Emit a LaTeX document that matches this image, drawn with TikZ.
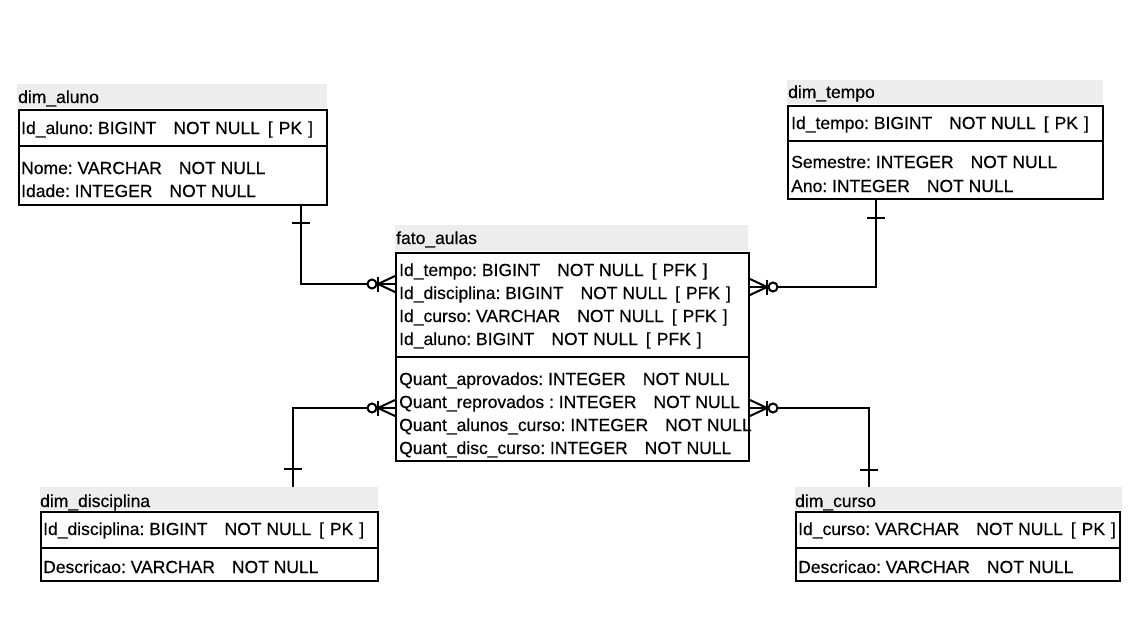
\documentclass[tikz,border=0pt]{standalone}
\usepackage{fontspec}
\setmainfont{Liberation Sans}[RawFeature={embolden=0.4}]
\usetikzlibrary{calc}
\definecolor{hdrgray}{HTML}{EDEDED}
\newcommand\gp[1]{\hspace*{#1pt}}
\newcommand\tg{\gp{17}}
\newcommand\kg{\gp{8}}
\newcommand\pk[1]{[\gp{6}#1\gp{6}]}
\newcommand\fs{\fontsize{17.5}{20}\selectfont\frenchspacing}
\newcommand\manyW[1]{%
  \draw[rel] ([yshift=8pt]#1) -- ([xshift=-17pt]#1) -- ([yshift=-8pt]#1);
  \draw[rel] ([xshift=-17pt,yshift=7.5pt]#1) -- ([xshift=-17pt,yshift=-7.5pt]#1);
  \draw[rel,fill=white] ([xshift=-23pt]#1) circle[radius=4.5pt];}
\newcommand\manyE[1]{%
  \draw[rel] ([yshift=8pt]#1) -- ([xshift=17pt]#1) -- ([yshift=-8pt]#1);
  \draw[rel] ([xshift=17pt,yshift=7.5pt]#1) -- ([xshift=17pt,yshift=-7.5pt]#1);
  \draw[rel,fill=white] ([xshift=23pt]#1) circle[radius=4.5pt];}
\newcommand\oneBar[2]{%
  \draw[rel] ([xshift=-9pt,yshift=#2]#1) -- ([xshift=9pt,yshift=#2]#1);}
\begin{document}
\begin{tikzpicture}[x=1pt,y=-1pt,
  border/.style={draw=black,line width=2pt},
  tbox/.style={border,fill=white,inner sep=0pt,anchor=north west},
  hdr/.style={fill=hdrgray,draw=none,inner sep=0pt,anchor=north west},
  txt/.style={inner sep=0pt,anchor=base west,font=\fs},
  rel/.style={draw=black,line width=2pt},
]
\useasboundingbox (0,0) rectangle (1142,632);
\fill[white] (0,0) rectangle (1142,632);

% ---------- dim_aluno ----------
\node[hdr,minimum width=310,minimum height=24] (alunoH) at (17,84) {};
\node[tbox,minimum width=308,minimum height=95] (alunoB) at (18,109) {};
\node[txt] (alunoT) at (18,103) {dim\_aluno};
\coordinate (alunoD) at (18,146);
\draw[border] (alunoD) -- (alunoD -| alunoB.east);
\node[txt] (alunoR1) at (21,134) {Id\_aluno: BIGINT\tg NOT NULL\kg\pk{PK}};
\node[txt] (alunoR2) at (21,174) {Nome: VARCHAR\tg NOT NULL};
\node[txt] (alunoR3) at (21,197) {Idade: INTEGER\tg NOT NULL};

% ---------- dim_tempo ----------
\node[hdr,minimum width=316,minimum height=24] (tempoH) at (787,80) {};
\node[tbox,minimum width=315,minimum height=93] (tempoB) at (787,105) {};
\node[txt] (tempoT) at (788,98) {dim\_tempo};
\coordinate (tempoD) at (787,141);
\draw[border] (tempoD) -- (tempoD -| tempoB.east);
\node[txt] (tempoR1) at (791,129) {Id\_tempo: BIGINT\tg NOT NULL\kg\pk{PK}};
\node[txt] (tempoR2) at (791,168) {Semestre: INTEGER\tg NOT NULL};
\node[txt] (tempoR3) at (791,192) {Ano: INTEGER\tg NOT NULL};

% ---------- fato_aulas ----------
\node[hdr,minimum width=353,minimum height=26] (fatoH) at (395,225) {};
\node[tbox,minimum width=353,minimum height=208] (fatoB) at (395,252) {};
\node[txt] (fatoT) at (396,244) {fato\_aulas};
\coordinate (fatoD) at (395,357);
\draw[border] (fatoD) -- (fatoD -| fatoB.east);
\node[txt] (fatoR1) at (399,276) {Id\_tempo: BIGINT\tg NOT NULL\kg\pk{PFK}};
\node[txt] (fatoR2) at (399,299) {Id\_disciplina: BIGINT\tg NOT NULL\kg\pk{PFK}};
\node[txt] (fatoR3) at (399,322) {Id\_curso: VARCHAR\tg NOT NULL\kg\pk{PFK}};
\node[txt] (fatoR4) at (399,345) {Id\_aluno: BIGINT\tg NOT NULL\kg\pk{PFK}};
\node[txt] (fatoR5) at (399,385) {Quant\_aprovados: INTEGER\tg NOT NULL};
\node[txt] (fatoR6) at (399,408) {Quant\_reprovados : INTEGER\tg NOT NULL};
\node[txt] (fatoR7) at (399,431) {Quant\_alunos\_curso: INTEGER\tg NOT NULL};
\node[txt] (fatoR8) at (399,454) {Quant\_disc\_curso: INTEGER\tg NOT NULL};

% ---------- dim_disciplina ----------
\node[hdr,minimum width=338,minimum height=23] (discH) at (40,487) {};
\node[tbox,minimum width=337,minimum height=69] (discB) at (40,511) {};
\node[txt] (discT) at (40,507) {dim\_disciplina};
\coordinate (discD) at (40,548);
\draw[border] (discD) -- (discD -| discB.east);
\node[txt] (discR1) at (43,535) {Id\_disciplina: BIGINT\tg NOT NULL\kg\pk{PK}};
\node[txt] (discR2) at (43,573) {Descricao: VARCHAR\tg NOT NULL};

% ---------- dim_curso ----------
\node[hdr,minimum width=327,minimum height=23] (cursoH) at (795,487) {};
\node[tbox,minimum width=324,minimum height=69] (cursoB) at (795,511) {};
\node[txt] (cursoT) at (795,507) {dim\_curso};
\coordinate (cursoD) at (795,548);
\draw[border] (cursoD) -- (cursoD -| cursoB.east);
\node[txt] (cursoR1) at (798,535) {Id\_curso: VARCHAR\tg NOT NULL\kg\pk{PK}};
\node[txt] (cursoR2) at (798,573) {Descricao: VARCHAR\tg NOT NULL};

% ---------- connectors ----------
\coordinate (j1) at (301,284);
\coordinate (j2) at (876,287);
\coordinate (j3) at (293,408);
\coordinate (j4) at (869,408);

\coordinate (s1) at (alunoB.south -| j1);
\coordinate (e1) at (fatoB.west |- j1);
\draw[rel] (s1) |- (e1);
\oneBar{s1}{-17pt}
\manyW{e1}

\coordinate (s2) at (tempoB.south -| j2);
\coordinate (e2) at (fatoB.east |- j2);
\draw[rel] (s2) |- (e2);
\oneBar{s2}{-18pt}
\manyE{e2}

\coordinate (s3) at (discH.north -| j3);
\coordinate (e3) at (fatoB.west |- j3);
\draw[rel] (s3) |- (e3);
\oneBar{s3}{18pt}
\manyW{e3}

\coordinate (s4) at (cursoH.north -| j4);
\coordinate (e4) at (fatoB.east |- j4);
\draw[rel] (s4) |- (e4);
\oneBar{s4}{17pt}
\manyE{e4}
\end{tikzpicture}
\end{document}
